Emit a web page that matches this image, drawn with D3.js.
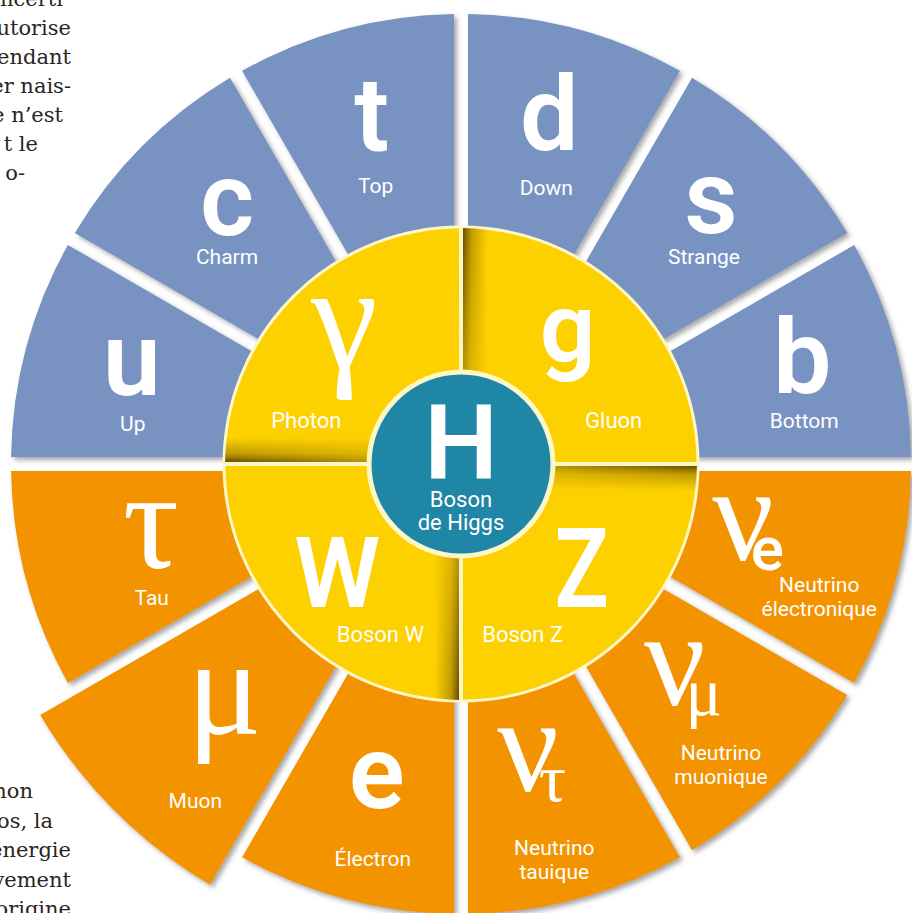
<!DOCTYPE html>
<html>
<head>
<meta charset="utf-8">
<script src="https://cdn.jsdelivr.net/npm/d3@7"></script>
<style>
  html, body { margin: 0; padding: 0; background: #fff; overflow: hidden; }
  svg { display: block; }
</style>
</head>
<body>
<script>
// Particules du Modèle standard, dans l'ordre des aiguilles d'une montre depuis midi
const outerSymbols = ["d", "s", "b", "ν", "ν", "ν", "e", "μ", "τ", "u", "c", "t"];
const outerSubscripts = ["", "", "", "e", "μ", "τ", "", "", "", "", "", ""];
const outerNames = [
    ["Down"], ["Strange"], ["Bottom"],
    ["Neutrino", "électronique"], ["Neutrino", "muonique"], ["Neutrino", "tauique"],
    ["Électron"], ["Muon"], ["Tau"],
    ["Up"], ["Charm"], ["Top"],
];
const outerFamilies = ["quark", "quark", "quark", "lepton", "lepton", "lepton",
    "lepton", "lepton", "lepton", "quark", "quark", "quark"];
const highlighted = "Muon";

// Bosons de jauge (quarts du disque jaune, depuis midi)
const bosonSymbols = ["g", "Z", "W", "γ"];
const bosonNames = ["Gluon", "Boson Z", "Boson W", "Photon"];

const higgsSymbol = "H";
const higgsName = ["Boson", "de Higgs"];

// Texte de l'article autour du schéma
const articleTop = ["ncerti", "utorise", "endant", "er nais-", "e  n’est", "t  le", "o-"];
const articleBottom = ["non", "os, la", "énergie", "vement", "origine"];

// ---- mise en page ----
const W = 912, H = 913, cx = 461, cy = 464;
const R_OUT = 450, R_HI = 490, R_IN = 200, R_YEL = 237, R_HIGGS = 92;
const GAP = 14;
const colors = { quark: "#7893c1", lepton: "#f39300", boson: "#fdd000", higgs: "#1f86a5", cream: "#fdf6c6" };

// decalages des textes par rapport au point d'ancrage (lettre dx, ligne de base dy, nom dx, nom dy)
const outerTextLayout = [
    [-1, 19, -4, 64], [6, 13, -1, 44], [8, 18, 10, 53],
    [-82, 7, 25, 39], [-61, -3, 16, 52], [-53, -6, 4, 58],
    [5, 11, 1, 69], [32, 1, 3, 75], [23, 15, 24, 52],
    [4, 20, 5, 56], [10, 15, 10, 44], [0, 19, 4, 62],
];
const bosonTextLayout = [
    [-10, 15, 36, 81], [4, 26, -55, 61], [-7, 26, 36, 61], [0, 21, -38, 81],
];
const bosonFontSize = { g: 98, Z: 112, W: 98, "γ": 150 };
const bosonScaleX = { g: 1, Z: 0.8, W: 1, "γ": 1 };

const greek = (s) => /[\u0370-\u03ff\u00b5]/.test(s);
const SANS = "Roboto, 'Open Sans', sans-serif";
const SERIF = "'Liberation Serif', 'DejaVu Serif', serif";
const LETTER_WEIGHT = 600;

const svg = d3.select("body").append("svg")
    .attr("width", W)
    .attr("height", H)
    .attr("viewBox", [0, 0, W, H]);

const defs = svg.append("defs");

//Ombre portée des secteurs
defs.append("filter")
    .attr("id", "segShadow")
    .attr("x", "-10%").attr("y", "-10%")
    .attr("width", "120%").attr("height", "120%")
    .append("feDropShadow")
    .attr("dx", 3)
    .attr("dy", 3)
    .attr("stdDeviation", 2.5)
    .attr("flood-color", "#5e5e5e")
    .attr("flood-opacity", 0.55);

//Ombres en moulinet dans le disque jaune
const bandGrad = defs.append("linearGradient")
    .attr("id", "bandGrad")
    .attr("gradientUnits", "userSpaceOnUse")
    .attr("x1", 0).attr("y1", -26).attr("x2", 0).attr("y2", 0);
bandGrad.append("stop").attr("offset", "0%").attr("stop-color", "#4a3500").attr("stop-opacity", 0);
bandGrad.append("stop").attr("offset", "60%").attr("stop-color", "#4a3500").attr("stop-opacity", 0.35);
bandGrad.append("stop").attr("offset", "100%").attr("stop-color", "#3a2800").attr("stop-opacity", 0.9);

const fadeGrad = defs.append("linearGradient")
    .attr("id", "fadeGrad")
    .attr("gradientUnits", "userSpaceOnUse")
    .attr("x1", -R_YEL).attr("y1", 0).attr("x2", -R_HIGGS).attr("y2", 0);
fadeGrad.append("stop").attr("offset", "0%").attr("stop-color", "#fff");
fadeGrad.append("stop").attr("offset", "100%").attr("stop-color", "#777");

defs.append("mask")
    .attr("id", "fadeMask")
    .attr("maskUnits", "userSpaceOnUse")
    .attr("x", -R_YEL).attr("y", -40).attr("width", R_YEL).attr("height", 40)
    .append("rect")
    .attr("x", -R_YEL).attr("y", -40).attr("width", R_YEL).attr("height", 40)
    .attr("fill", "url(#fadeGrad)");

defs.append("clipPath")
    .attr("id", "yelClip")
    .append("circle")
    .attr("r", R_YEL - 1);

// ---- texte de l'article ----
const article = svg.append("g")
    .attr("font-family", "'DejaVu Serif', serif")
    .attr("font-size", 21)
    .attr("fill", "#2b2523")
    .attr("text-anchor", "end");
const topRight = [63, 71, 71, 71, 63, 38, 25];
article.selectAll("text.top")
    .data(articleTop)
    .join("text")
    .attr("class", "top")
    .attr("x", (d, i) => topRight[i])
    .attr("y", (d, i) => 6 + i * 29)
    .text((d) => d);
const bottomRight = [33, 53, 71, 71, 71];
article.selectAll("text.bottom")
    .data(articleBottom)
    .join("text")
    .attr("class", "bottom")
    .attr("x", (d, i) => bottomRight[i])
    .attr("y", (d, i) => 798 + i * 29.5)
    .text((d) => d);

// ---- couronne extérieure ----
const pie = d3.pie().value(() => 1).sort(null);
const outerData = pie(outerSymbols.map((s, i) => ({
    symbol: s,
    sub: outerSubscripts[i],
    names: outerNames[i],
    family: outerFamilies[i],
    layout: outerTextLayout[i],
})));

const arc = d3.arc()
    .innerRadius(R_IN)
    .outerRadius((d) => (d.data.names[0] === highlighted ? R_HI : R_OUT))
    .padAngle(GAP / R_OUT)
    .padRadius(R_OUT);

const chart = svg.append("g").attr("transform", `translate(${cx},${cy})`);

chart.append("g")
    .attr("filter", "url(#segShadow)")
    .selectAll("path")
    .data(outerData)
    .join("path")
    .attr("d", arc)
    .attr("fill", (d) => colors[d.data.family]);

// ---- disque des bosons ----
chart.append("circle")
    .attr("r", R_YEL)
    .attr("fill", colors.boson)
    .attr("stroke", colors.cream)
    .attr("stroke-width", 3);

const bands = chart.append("g").attr("clip-path", "url(#yelClip)");
[0, 90, 180, 270].forEach((rot) => {
    bands.append("g")
        .attr("transform", `rotate(${rot})`)
        .append("rect")
        .attr("x", -R_YEL)
        .attr("y", -26)
        .attr("width", R_YEL)
        .attr("height", 26)
        .attr("fill", "url(#bandGrad)")
        .attr("mask", "url(#fadeMask)");
});

chart.append("g")
    .attr("stroke", colors.cream)
    .attr("stroke-width", 4)
    .selectAll("line")
    .data([0, 90, 180, 270])
    .join("line")
    .attr("x2", (a) => R_YEL * Math.sin(a * Math.PI / 180))
    .attr("y2", (a) => -R_YEL * Math.cos(a * Math.PI / 180));

// ---- Higgs ----
chart.append("circle")
    .attr("r", R_HIGGS)
    .attr("fill", colors.higgs)
    .attr("stroke", colors.cream)
    .attr("stroke-width", 5);

// ---- textes ----
const polar = (a, r) => [r * Math.sin(a), -r * Math.cos(a)];

const labels = chart.append("g").attr("fill", "#fff");
outerData.forEach((d) => {
    const mid = (d.startAngle + d.endAngle) / 2;
    const [ax, ay] = polar(mid, d.data.names[0] === highlighted ? 380 : 345);
    const [ldx, ldy, ndx, ndy] = d.data.layout;
    const t = labels.append("text")
        .attr("x", ax + ldx)
        .attr("y", ay + ldy)
        .attr("text-anchor", d.data.sub ? "start" : "middle");
    if (greek(d.data.symbol)) {
        t.append("tspan")
            .attr("font-family", SERIF)
            .attr("font-size", d.data.sub ? 136 : 140)
            .text(d.data.symbol);
    } else {
        t.append("tspan")
            .attr("font-family", SANS)
            .attr("font-weight", LETTER_WEIGHT)
            .attr("font-size", 104)
            .text(d.data.symbol);
    }
    if (d.data.sub) {
        const sg = greek(d.data.sub);
        t.append("tspan")
            .attr("dx", sg ? -20 : -23)
            .attr("dy", 10)
            .attr("font-family", sg ? SERIF : SANS)
            .attr("font-weight", sg ? 400 : 500)
            .attr("font-size", sg ? 68 : 62)
            .text(d.data.sub);
    }
    labels.append("text")
        .attr("x", ax + ndx)
        .attr("y", ay + ndy)
        .attr("text-anchor", "middle")
        .attr("font-family", SANS)
        .attr("font-size", 21)
        .selectAll("tspan")
        .data(d.data.names)
        .join("tspan")
        .attr("x", ax + ndx)
        .attr("dy", (n, i) => (i === 0 ? 0 : 24))
        .text((n) => n);
});

const bosonData = pie(bosonSymbols);
bosonData.forEach((d, i) => {
    const mid = (d.startAngle + d.endAngle) / 2;
    const [ax, ay] = polar(mid, 165);
    const [ldx, ldy, ndx, ndy] = bosonTextLayout[i];
    const sym = d.data;
    labels.append("text")
        .attr("transform", `translate(${ax + ldx},${ay + ldy}) scale(${bosonScaleX[sym]},1)`)
        .attr("text-anchor", "middle")
        .attr("font-family", greek(sym) ? SERIF : SANS)
        .attr("font-weight", greek(sym) ? 400 : LETTER_WEIGHT)
        .attr("font-size", bosonFontSize[sym])
        .text(sym);
    labels.append("text")
        .attr("x", ax + ndx)
        .attr("y", ay + ndy)
        .attr("text-anchor", "middle")
        .attr("font-family", SANS)
        .attr("font-size", 22)
        .text(bosonNames[i]);
});

labels.append("text")
    .attr("y", 14)
    .attr("text-anchor", "middle")
    .attr("font-family", SANS)
    .attr("font-weight", LETTER_WEIGHT)
    .attr("font-size", 104)
    .text(higgsSymbol);
labels.append("text")
    .attr("text-anchor", "middle")
    .attr("font-family", SANS)
    .attr("font-size", 22)
    .selectAll("tspan")
    .data(higgsName)
    .join("tspan")
    .attr("x", 0)
    .attr("y", (n, i) => 43 + i * 23)
    .text((n) => n);
</script>
</body>
</html>
